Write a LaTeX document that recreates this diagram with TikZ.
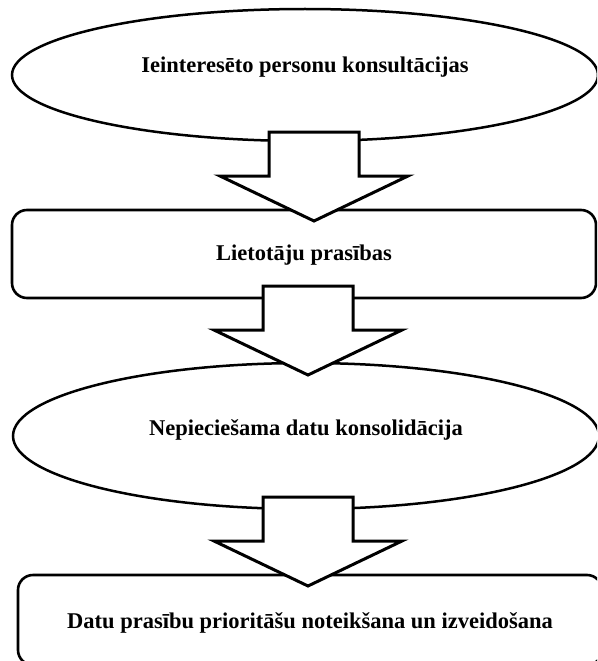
\documentclass[tikz,border=0pt]{standalone}
\usepackage{fontspec}
\setmainfont{Liberation Serif}
\usepackage{tikz}
\usetikzlibrary{shapes.geometric}

\begin{document}
\begin{tikzpicture}[x=1pt,y=-1pt]
\useasboundingbox (0,0) rectangle (597,661);
\clip (0,0) rectangle (597,661);
\begin{scope}[every node/.style={ellipse,draw,line width=2.5pt,inner sep=0pt,
              font=\bfseries\fontsize{22.5}{27}\selectfont}]
    \node[minimum width=586pt,minimum height=132pt,text height=12pt,text depth=18pt]
        (consult) at (305,75) {Ieinteresēto personu konsultācijas};
    \node[minimum width=586pt,minimum height=146pt,text height=12pt,text depth=14pt]
        (consol) at (306,436) {Nepieciešama datu konsolidācija};
\end{scope}
\begin{scope}[every node/.style={rectangle,rounded corners=15pt,draw,line width=2.6pt,inner sep=0pt,
              font=\bfseries\fontsize{22.5}{27}\selectfont}]
    \node[minimum width=584pt,minimum height=88pt,text height=16pt,text depth=4pt]
        (req) at (304,254) {Lietotāju prasības};
    \node[minimum width=584pt,minimum height=90pt,text height=20pt,text depth=4pt]
        (prio) at (310,620) {Datu prasību prioritāšu noteikšana un izveidošana};
\end{scope}

% block arrows, drawn on top
\coordinate (a1) at (314,132);
\coordinate (a2) at (308,286);
\coordinate (a3) at (308,497);
\begin{scope}[every path/.style={draw=black,fill=white,line width=3pt,line join=miter}]
    \foreach \c in {a1,a2,a3}
        \path (\c) ++(-45,0) -- ++(90,0) -- ++(0,44) -- ++(49,0) -- ++(-94,45)
              -- ++(-94,-45) -- ++(49,0) -- cycle;
\end{scope}
\end{tikzpicture}
\end{document}
